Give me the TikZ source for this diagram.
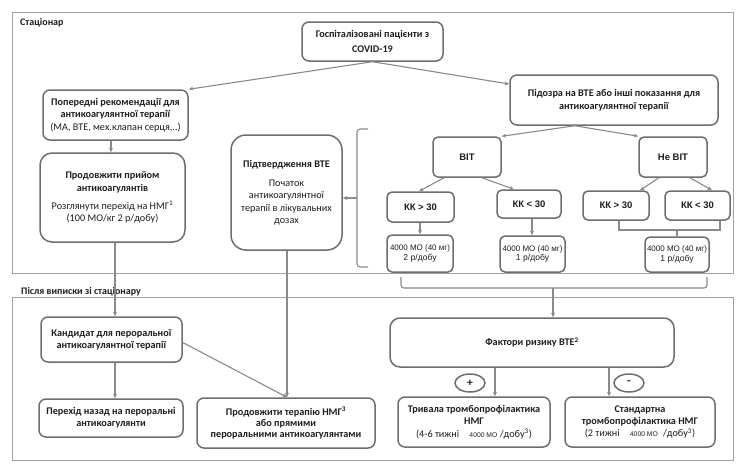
\documentclass[tikz,border=0pt]{standalone}
\usepackage{fontspec}
\setmainfont{Carlito}
\newfontfamily\arialf{Liberation Sans}
\usetikzlibrary{arrows.meta,shapes.geometric,calc}
\definecolor{boxc}{HTML}{6E6E6E}
\definecolor{linec}{HTML}{8A8A8A}
\definecolor{framec}{HTML}{A0A0A0}
\definecolor{txtc}{HTML}{1E1E1E}
\begin{document}
\begin{tikzpicture}[x=1pt,y=-1pt,
  box/.style={draw=boxc, line width=1.5pt, rounded corners=7pt, align=center, inner sep=1pt, text=txtc, font=\fontsize{10.2}{12.3}\selectfont},
  arr/.style={draw=linec, line width=1.1pt, -{Stealth[length=4.5pt,width=4pt]}},
  conn/.style={draw=linec, line width=1.1pt},
  frame/.style={draw=framec, line width=1pt},
  kk/.style={box, rounded corners=5pt, font=\arialf\bfseries\fontsize{9.5}{11}\selectfont},
  dose/.style={box, rounded corners=5pt, font=\arialf\fontsize{8}{9.5}\selectfont},
  sgn/.style={ellipse, draw=boxc, line width=1.5pt, minimum width=30pt, minimum height=18pt, inner sep=0pt, text=txtc, font=\bfseries\fontsize{11.5}{11.5}\selectfont},
  lbl/.style={anchor=west, inner sep=0pt, text=txtc, font=\bfseries\fontsize{10}{11}\selectfont}
]
\useasboundingbox (0,0) rectangle (744,472);
\fill[white] (0,0) rectangle (744,472);
% frames
\draw[frame] (12,12) rectangle (733,273);
\draw[frame] (12,297) rectangle (733,460);
\node[lbl] (lab1) at (20,23) {Стаціонар};
\node[lbl] (lab2) at (21,292) {Після виписки зі стаціонару};

% nodes
\node[box, minimum width=141pt, minimum height=39pt, font=\fontsize{10.2}{15}\selectfont] (hosp) at (372.5,41.5)
  {\textbf{Госпіталізовані пацієнти з}\\\textbf{COVID-19}};
\node[box, minimum width=145pt, minimum height=50pt] (prev) at (115.5,115)
  {\textbf{Попередні рекомендації для}\\\textbf{антикоагулянтної терапії}\\(МА, ВТЕ, мех.клапан серця,..)};
\node[box, minimum width=208pt, minimum height=50pt, font=\fontsize{10.2}{13.5}\selectfont] (susp) at (614,100)
  {\textbf{Підозра на ВТЕ або інші показання для}\\\textbf{антикоагулянтної терапії}};
\node[box, rounded corners=12pt, minimum width=145pt, minimum height=89pt] (cont) at (112.5,197.5)
  {\textbf{Продовжити прийом}\\\textbf{антикоагулянтів}\\[6pt]Розглянути перехід на НМГ\textsuperscript{1}\\(100 МО/кг 2 р/добу)};
\node[box, rounded corners=15pt, minimum width=111pt, minimum height=115pt] (conf) at (286.5,192.5)
  {\textbf{Підтвердження ВТЕ}\\[7pt]Початок\\антикоагулянтної\\терапії в лікувальних\\дозах};
\node[kk, minimum width=68pt, minimum height=40pt] (vit) at (467,157) {ВІТ};
\node[kk, minimum width=68pt, minimum height=40pt] (nevit) at (673,157) {Не ВІТ};
\node[kk, minimum width=67pt, minimum height=30pt] (kk1) at (420.5,207) {КК > 30};
\node[kk, minimum width=64pt, minimum height=28pt] (kk2) at (529,204) {КК < 30};
\node[kk, minimum width=66pt, minimum height=29pt] (kk3) at (616,205.5) {КК > 30};
\node[kk, minimum width=65pt, minimum height=29pt] (kk4) at (697.5,205.5) {КК < 30};
\node[dose, minimum width=66pt, minimum height=37pt] (d1) at (420,253.5) {4000 МО (40 мг)\\{\fontsize{8.6}{9.5}\selectfont 2 р/добу}};
\node[dose, minimum width=65pt, minimum height=36pt] (d2) at (532.5,254) {4000 МО (40 мг)\\{\fontsize{8.6}{9.5}\selectfont 1 р/добу}};
\node[dose, minimum width=64pt, minimum height=35pt] (d3) at (677,254.5) {4000 МО (40 мг)\\{\fontsize{8.6}{9.5}\selectfont 1 р/добу}};

\node[box, rounded corners=10pt, minimum width=284pt, minimum height=49pt] (risk) at (532,342.5)
  {\textbf{Фактори ризику ВТЕ\textsuperscript{2}}};
\node[box, minimum width=152pt, minimum height=50pt] (long) at (474,422)
  {\textbf{Тривала тромбопрофілактика}\\\textbf{НМГ}\\(4-6 тижні\quad{\arialf\fontsize{6.8}{9}\selectfont 4000 МО} /добу\textsuperscript{3})};
\node[box, minimum width=150pt, minimum height=50pt] (std) at (640,422)
  {\textbf{Стандартна}\\\textbf{тромбопрофілактика НМГ}\\(2 тижні\quad{\arialf\fontsize{6.8}{9}\selectfont 4000 МО}\enspace/добу\textsuperscript{3})};
\node[sgn] (plus) at (470,383) {+};
\node[sgn] (minus) at (629,383) {-};

\node[box, minimum width=141pt, minimum height=45pt] (cand) at (111.5,339.5)
  {\textbf{Кандидат для пероральної}\\\textbf{антикоагулянтної терапії}};
\node[box, minimum width=144pt, minimum height=38pt] (back) at (111,418)
  {\textbf{Перехід назад на пероральні}\\\textbf{антикоагулянти}};
\node[box, minimum width=178pt, minimum height=50pt, font=\fontsize{10.2}{11}\selectfont] (contnmg) at (286,423)
  {\textbf{Продовжити терапію НМГ\textsuperscript{3}}\\\textbf{або прямими}\\\textbf{пероральними антикоагулянтами}};

% connectors
\draw[arr] (hosp.south) -- (prev.north east);
\draw[arr] (hosp.south) -- ($(susp.west)+(0,-16)$);
\draw[arr] (prev.south -| 111,0) -- (cont.north -| 111,0);
\draw[arr] (cont.south -| 115,0) -- (cand.north -| 115,0);
\draw[arr] (cand.south -| 115,0) -- (back.north -| 115,0);
\draw[arr] (conf.south -| 287,0) -- (contnmg.north -| 287,0);
\draw[arr] ($(cand.east)+(0,3)$) -- (contnmg.north -| 287,0);

\draw[arr] (susp.south -| 575,0) -- (vit.north east);
\draw[arr] (susp.south -| 575,0) -- (nevit.north west);
\draw[arr] (vit.south -| 444,0) -- (kk1.north -| 419,0);
\draw[arr] (vit.south -| 482,0) -- (kk2.north -| 514,0);
\draw[arr] (nevit.south -| 659,0) -- (kk3.north -| 640,0);
\draw[arr] (nevit.south -| 690,0) -- (kk4.north -| 712,0);
\draw[arr] (kk1.south -| 420,0) -- (d1.north -| 420,0);
\draw[arr] (kk2.south -| 532,0) -- (d2.north -| 532,0);
\coordinate (j3) at (677,230);
\draw[conn] (kk3.south -| 619,0) |- (j3) -| (kk4.south -| 720,0);
\draw[conn] (j3) -- (d3.north -| j3);

% bracket round the left group
\coordinate (bm) at (357,198);
\draw[conn, rounded corners=3pt] (368,129) -- (357,129) -- (357,267) -- (368,267);
\draw[arr] (bm) -- (conf.east |- bm);

% bracket under dose boxes
\coordinate (bb) at (553,288);
\draw[conn, rounded corners=3pt] (401,277) -- (401,288) -- (707,288) -- (707,277);
\draw[arr] (bb) -- (risk.north -| bb);

\draw[arr] (risk.south -| 495,0) -- (long.north -| 495,0);
\draw[arr] (risk.south -| 609,0) -- (std.north -| 609,0);
\end{tikzpicture}
\end{document}
